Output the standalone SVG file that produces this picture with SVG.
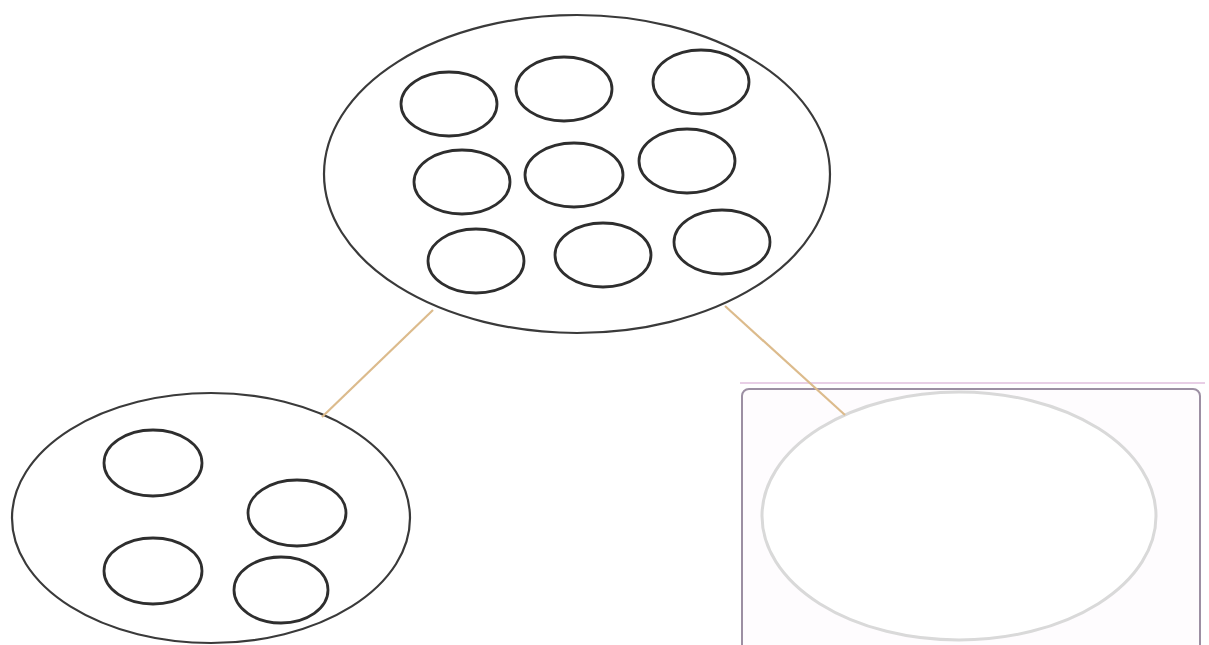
<svg xmlns="http://www.w3.org/2000/svg" width="1209" height="645" viewBox="0 0 1209 645">
<style>
.big{fill:#ffffff;stroke:#3a3a3a;stroke-width:2.2}
.sm{fill:#ffffff;stroke:#2e2e2e;stroke-width:2.8}
.con{stroke:#dcbb8c;stroke-width:2.2;fill:none}
.box{fill:#fefcfe;stroke:#9c8fa3;stroke-width:2}
.boxline{stroke:#e8cfe6;stroke-width:2}
.pale{fill:#ffffff;stroke:#d9d9d9;stroke-width:3}
</style>
<rect width="1209" height="645" fill="#ffffff"/>
<g id="node-top">
<ellipse class="big" cx="577" cy="174" rx="253" ry="159"/>
<ellipse class="sm" cx="449" cy="104" rx="48" ry="32"/>
<ellipse class="sm" cx="564" cy="89" rx="48" ry="32"/>
<ellipse class="sm" cx="701" cy="82" rx="48" ry="32"/>
<ellipse class="sm" cx="462" cy="182" rx="48" ry="32"/>
<ellipse class="sm" cx="574" cy="175" rx="49" ry="32"/>
<ellipse class="sm" cx="687" cy="161" rx="48" ry="32"/>
<ellipse class="sm" cx="476" cy="261" rx="48" ry="32"/>
<ellipse class="sm" cx="603" cy="255" rx="48" ry="32"/>
<ellipse class="sm" cx="722" cy="242" rx="48" ry="32"/>
</g>
<g id="node-left">
<ellipse class="big" cx="211" cy="518" rx="199" ry="125"/>
<ellipse class="sm" cx="153" cy="463" rx="49" ry="33"/>
<ellipse class="sm" cx="297" cy="513" rx="49" ry="33"/>
<ellipse class="sm" cx="153" cy="571" rx="49" ry="33"/>
<ellipse class="sm" cx="281" cy="590" rx="47" ry="33"/>
</g>
<g id="node-right">
<line class="boxline" x1="740" y1="383" x2="1205" y2="383"/>
<rect class="box" x="742" y="389" width="458" height="275" rx="7"/>
<ellipse class="pale" cx="959" cy="516" rx="197" ry="124"/>
</g>
<g id="connectors">
<line class="con" x1="433" y1="310" x2="322" y2="417"/>
<line class="con" x1="725" y1="306" x2="845" y2="415"/>
</g>
</svg>
